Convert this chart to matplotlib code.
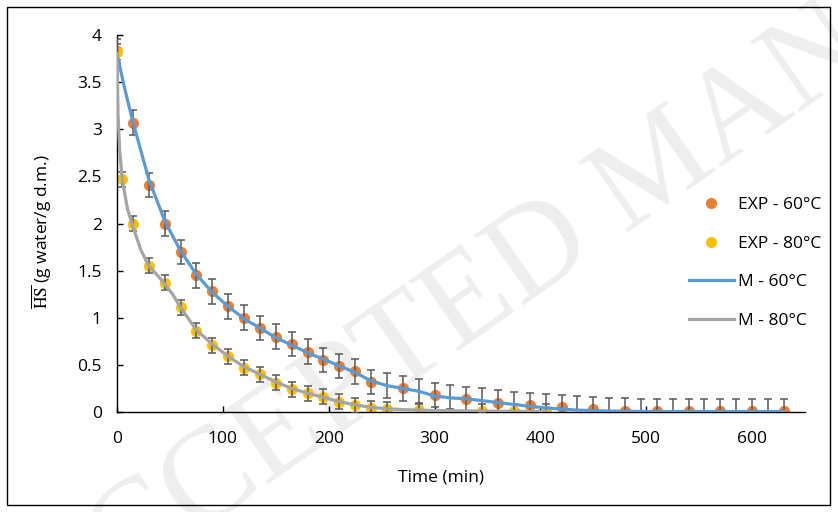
import matplotlib
matplotlib.use("Agg")
import matplotlib.pyplot as plt
from matplotlib.patches import Rectangle

# ---------------- data ----------------
t_exp60 = [0, 15, 30, 45, 60, 75, 90, 105, 120, 135, 150, 165, 180, 195, 210, 225, 240,
           270, 300, 330, 360, 390, 420, 450, 480, 510, 540, 570, 600, 630]
hs_exp60 = [3.83, 3.07, 2.41, 2.00, 1.70, 1.45, 1.28, 1.12, 1.00, 0.89, 0.80, 0.72, 0.64, 0.55,
            0.49, 0.43, 0.32, 0.25, 0.18, 0.14, 0.10, 0.07, 0.05, 0.03, 0.015, 0.01, 0.01,
            0.01, 0.01, 0.01]

t_exp80 = [0, 5, 15, 30, 45, 60, 75, 90, 105, 120, 135, 150, 165, 180, 195, 210, 225, 240,
           255, 285, 345, 375, 405]
hs_exp80 = [3.82, 2.47, 2.00, 1.55, 1.37, 1.11, 0.86, 0.71, 0.59, 0.47, 0.40, 0.31, 0.24, 0.20,
            0.16, 0.11, 0.07, 0.04, 0.03, 0.02, 0.01, 0.01, 0.01]
err_exp80 = [0.08] * len(t_exp80)

t_mod60 = [0, 7.5, 15, 30, 45, 60, 75, 90, 105, 120, 135, 150, 165, 180, 195, 210, 225, 240,
           255, 270, 285, 300, 315, 330, 345, 360, 375, 390, 405, 420, 435, 450, 465, 480,
           495, 510, 525, 540, 555, 570, 585, 600, 615, 630]
hs_mod60 = [3.80, 3.42, 3.08, 2.47, 2.03, 1.71, 1.46, 1.27, 1.12, 0.99, 0.89, 0.79, 0.71, 0.63,
            0.56, 0.49, 0.42, 0.33, 0.28, 0.25, 0.22, 0.17, 0.15, 0.14, 0.12, 0.10, 0.08, 0.06,
            0.045, 0.03, 0.02, 0.015, 0.01, 0.008, 0.006, 0.005, 0.005, 0.005, 0.005, 0.005,
            0.005, 0.005, 0.005, 0.005]

t_err60 = [0, 15, 30, 45, 60, 75, 90, 105, 120, 135, 150, 165, 180, 195, 210, 225, 240, 255,
           270, 285, 300, 315, 330, 345, 360, 375, 390, 405, 420, 435, 450, 465, 480, 495, 510,
           525, 540, 555, 570, 585, 600, 615, 630]
hs_err60 = [3.83, 3.07, 2.41, 2.00, 1.70, 1.45, 1.28, 1.12, 1.00, 0.89, 0.80, 0.72, 0.64, 0.55,
            0.49, 0.43, 0.32, 0.28, 0.25, 0.22, 0.18, 0.16, 0.14, 0.12, 0.10, 0.08, 0.07, 0.06,
            0.05, 0.04, 0.03, 0.02, 0.015, 0.01, 0.01, 0.01, 0.01, 0.01, 0.01, 0.01, 0.01, 0.01,
            0.01]
err60 = [0.13] * len(t_err60)

t_mod80 = [0, 1, 2.5, 5, 10, 15, 22.5, 30, 37.5, 45, 52.5, 60, 75, 90, 105, 120, 135, 150, 165,
           180, 195, 210, 225, 240, 255, 270, 285, 300, 345, 405]
hs_mod80 = [3.80, 3.15, 2.78, 2.46, 2.15, 1.97, 1.72, 1.55, 1.46, 1.36, 1.25, 1.11, 0.87, 0.72,
            0.59, 0.48, 0.40, 0.32, 0.25, 0.20, 0.155, 0.11, 0.075, 0.05, 0.035, 0.025, 0.02,
            0.015, 0.01, 0.005]

x_ticks = [0, 100, 200, 300, 400, 500, 600]
y_ticks = [0, 0.5, 1, 1.5, 2, 2.5, 3, 3.5, 4]
y_ticklabels = ["0", "0.5", "1", "1.5", "2", "2.5", "3", "3.5", "4"]

# ---------------- style ----------------
FONT = "Open Sans"
plt.rcParams["font.family"] = [FONT, "DejaVu Sans"]
plt.rcParams["mathtext.fontset"] = "stix"

C_ORANGE = "#ED7D31"
C_YELLOW = "#FFC000"
C_BLUE = "#5B9BD5"
C_GRAY = "#A5A5A5"
C_ERR = "#595959"

fig = plt.figure(figsize=(8.38, 5.12), dpi=100)
ax = fig.add_axes([117 / 838, 1 - 412 / 512, (805 - 117) / 838, (412 - 35) / 512])
ax.patch.set_alpha(0)

# watermark (behind the chart)
fig.text(45 / 838, 1 - 640 / 512, "ACCEPTED MANUSCRIPT", rotation=35, rotation_mode="anchor",
         ha="left", va="baseline", fontsize=94, family="Liberation Serif", color="#eeeeee",
         zorder=-1)

# border around image
fig.patches.append(Rectangle((7 / 838, 1 - 505 / 512), 823 / 838, 498 / 512,
                             transform=fig.transFigure, fill=False, edgecolor="black",
                             linewidth=1.0, zorder=0))

ms = 8
ax.plot(t_exp60, hs_exp60, "o", color=C_ORANGE, ms=ms, mec="none", label="EXP - 60°C", zorder=2)
ax.plot(t_exp80, hs_exp80, "o", color=C_YELLOW, ms=ms, mec="none", label="EXP - 80°C", zorder=2)
ax.errorbar(t_exp80, hs_exp80, yerr=err_exp80, fmt="none", ecolor=C_ERR, elinewidth=1.1,
            capsize=3, capthick=1.1, zorder=3)
ax.plot(t_mod60, hs_mod60, "-", color=C_BLUE, lw=2.3, label="M - 60°C", zorder=4)
ax.errorbar(t_err60, hs_err60, yerr=err60, fmt="none", ecolor=C_ERR, elinewidth=1.1,
            capsize=3, capthick=1.1, zorder=3)
ax.plot(t_mod80, hs_mod80, "-", color=C_GRAY, lw=2.3, label="M - 80°C", zorder=4)

ax.set_xlim(0, 650)
ax.set_ylim(0, 4)
ax.set_xticks(x_ticks)
ax.set_yticks(y_ticks)
ax.set_yticklabels(y_ticklabels)
for s in ["top", "right"]:
    ax.spines[s].set_visible(False)
for s in ["left", "bottom"]:
    ax.spines[s].set_linewidth(1.0)
    ax.spines[s].set_color("black")
ax.tick_params(axis="both", direction="in", length=4, width=1.0, labelsize=12.5,
               colors="black")
ax.tick_params(axis="x", pad=14)
ax.tick_params(axis="y", pad=11)

ax.set_xlabel("Time (min)", fontsize=12.5)
ax.xaxis.set_label_coords((441 - 117) / 688, (412 - 470) / 377)
ax.set_ylabel(r"$\overline{\mathrm{HS}}$ (g water/g d.m.)", fontsize=12.5)
ax.yaxis.set_label_coords((54 - 117) / 688, (412 - 232) / 377)

leg = ax.legend(loc="center left", bbox_to_anchor=(680 / 838, 1 - 263 / 512),
                bbox_transform=fig.transFigure, frameon=False, fontsize=12.5,
                handlelength=2.6, handletextpad=0.25, labelspacing=1.3, borderpad=0,
                markerscale=1.0)

fig.savefig("out.png", dpi=100)
